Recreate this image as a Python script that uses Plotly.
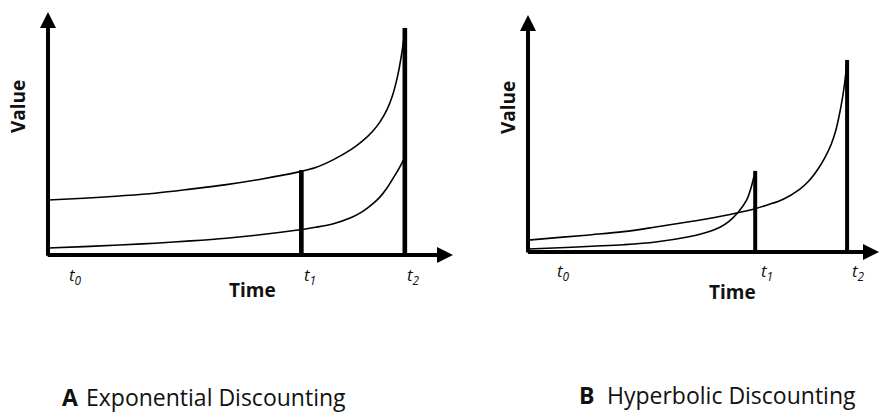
import plotly.graph_objects as go

W, H = 880, 413

# ---------------- data ----------------
# Panel A: exponential discounting
a_large_t = [0, 1, 2, 3, 4, 5, 6, 7, 7.5, 8, 8.5, 8.8, 9.1, 9.3, 9.5, 9.65, 9.8, 9.9, 9.96, 10]
a_large_v = [2.42, 2.5, 2.6, 2.72, 2.9, 3.1, 3.35, 3.65, 3.85, 4.2, 4.65, 5.0, 5.45, 5.85, 6.4, 7.0, 7.9, 8.75, 9.4, 10]
a_small_t = [0, 1, 2, 3, 4, 5, 6, 7, 7.5, 8, 8.5, 8.8, 9.1, 9.3, 9.5, 9.7, 9.85, 10]
a_small_v = [0.31, 0.37, 0.44, 0.52, 0.62, 0.74, 0.9, 1.1, 1.22, 1.38, 1.65, 1.9, 2.25, 2.55, 2.95, 3.45, 3.85, 4.3]
a_reward_t = [7.1, 10]
a_reward_v = [3.74, 10]

# Panel B: hyperbolic discounting
b_small_t = [0, 1, 2, 3, 4, 5, 5.5, 6, 6.3, 6.6, 6.85, 7.0, 7.12]
b_small_v = [0.16, 0.22, 0.3, 0.38, 0.52, 0.78, 0.98, 1.28, 1.6, 2.1, 2.7, 3.4, 4.22]
b_large_t = [0, 1, 2, 3, 4, 5, 6, 7, 7.5, 8, 8.5, 8.8, 9.1, 9.3, 9.5, 9.65, 9.8, 9.9, 9.96, 10]
b_large_v = [0.62, 0.76, 0.9, 1.06, 1.3, 1.56, 1.85, 2.2, 2.45, 2.75, 3.25, 3.7, 4.35, 4.9, 5.6, 6.35, 7.5, 8.5, 9.3, 10]
b_reward_t = [7.12, 10]
b_reward_v = [4.22, 10]

tick_labels = ["<i>t</i><sub><i>0</i></sub>", "<i>t</i><sub><i>1</i></sub>", "<i>t</i><sub><i>2</i></sub>"]
x_title = "Time"
y_title = "Value"
panel_letters = ["A", "B"]
panel_names = ["Exponential Discounting", "Hyperbolic Discounting"]

# ---------------- layout geometry (pixels) ----------------
A_px = dict(x0=48, x1=453, y0=255, y1=12, xr=11.35, yr=10.7)
B_px = dict(x0=528, x1=879, y0=252, y1=15, xr=11.0, yr=12.34)

def dom_x(p):
    return [p["x0"] / W, p["x1"] / W]

def dom_y(p):
    return [1 - p["y0"] / H, 1 - p["y1"] / H]

fig = go.Figure()

CURVE = dict(color="black", width=1.6, shape="spline", smoothing=1.0)

fig.add_trace(go.Scatter(x=a_large_t, y=a_large_v, mode="lines", line=CURVE, xaxis="x", yaxis="y", showlegend=False))
fig.add_trace(go.Scatter(x=a_small_t, y=a_small_v, mode="lines", line=CURVE, xaxis="x", yaxis="y", showlegend=False))
fig.add_trace(go.Bar(x=a_reward_t, y=a_reward_v, width=0.13, marker=dict(color="black", line=dict(width=0)),
                     xaxis="x", yaxis="y", showlegend=False))

fig.add_trace(go.Scatter(x=b_small_t, y=b_small_v, mode="lines", line=CURVE, xaxis="x2", yaxis="y2", showlegend=False))
fig.add_trace(go.Scatter(x=b_large_t, y=b_large_v, mode="lines", line=CURVE, xaxis="x2", yaxis="y2", showlegend=False))
fig.add_trace(go.Bar(x=b_reward_t, y=b_reward_v, width=0.125, marker=dict(color="black", line=dict(width=0)),
                     xaxis="x2", yaxis="y2", showlegend=False))

ax_common = dict(visible=False, fixedrange=True)
fig.update_layout(
    width=W, height=H,
    margin=dict(l=0, r=0, t=0, b=0),
    paper_bgcolor="white", plot_bgcolor="white",
    barmode="overlay",
    xaxis=dict(domain=dom_x(A_px), range=[0, A_px["xr"]], anchor="y", **ax_common),
    yaxis=dict(domain=dom_y(A_px), range=[0, A_px["yr"]], anchor="x", **ax_common),
    xaxis2=dict(domain=dom_x(B_px), range=[0, B_px["xr"]], anchor="y2", **ax_common),
    yaxis2=dict(domain=dom_y(B_px), range=[0, B_px["yr"]], anchor="x2", **ax_common),
)

ann = []
TICKFONT = dict(family="Open Sans", size=17, color="#111")
TITLEFONT = dict(family="Open Sans", size=19, color="#111")

def axes_arrows(xr, yr, xref, yref):
    common = dict(xref=xref, yref=yref, axref=xref, ayref=yref, showarrow=True, text="",
                  arrowhead=2, arrowsize=0.8, arrowwidth=4, arrowcolor="black", standoff=0, startstandoff=0)
    return [dict(x=xr, y=0, ax=-0.05, ay=0, **common),
            dict(x=0, y=yr, ax=0, ay=-0.1, **common)]

ann += axes_arrows(A_px["xr"], A_px["yr"], "x", "y")
ann += axes_arrows(B_px["xr"], B_px["yr"], "x2", "y2")

# tick labels
a_ticks = [0] + a_reward_t
a_shift = [27, 9, 9]
for t, lab, s in zip(a_ticks, tick_labels, a_shift):
    ann.append(dict(x=t, y=0, xref="x", yref="y", text=lab, showarrow=False, font=TICKFONT,
                    xanchor="center", yanchor="middle", xshift=s, yshift=-20))
b_ticks = [0] + b_reward_t
b_shift = [35, 12, 11]
for t, lab, s in zip(b_ticks, tick_labels, b_shift):
    ann.append(dict(x=t, y=0, xref="x2", yref="y2", text=lab, showarrow=False, font=TICKFONT,
                    xanchor="center", yanchor="middle", xshift=s, yshift=-19))

# axis titles
def ptext(xp, yp, text, font, **kw):
    d = dict(x=xp / W, y=1 - yp / H, xref="paper", yref="paper", text=text, showarrow=False,
             font=font, xanchor="center", yanchor="middle")
    d.update(kw)
    return d

ann.append(ptext(252, 290, "<b>%s</b>" % x_title, TITLEFONT))
ann.append(ptext(18, 107, "<b>%s</b>" % y_title, TITLEFONT, textangle=-90))
ann.append(ptext(732, 292, "<b>%s</b>" % x_title, TITLEFONT))
ann.append(ptext(508, 108, "<b>%s</b>" % y_title, TITLEFONT, textangle=-90))

# panel titles
PFONT = dict(family="Open Sans", size=23, color="#111")
ann.append(ptext(60, 397, "<b>%s</b>" % panel_letters[0], PFONT, xanchor="left"))
ann.append(ptext(84, 397, panel_names[0], PFONT, xanchor="left"))
ann.append(ptext(577, 395, "<b>%s</b>" % panel_letters[1], PFONT, xanchor="left"))
ann.append(ptext(605, 395, panel_names[1], PFONT, xanchor="left"))

fig.update_layout(annotations=ann)
fig.write_html("out.html", config={"displayModeBar": False},
               post_script="document.body.style.margin='0';document.body.style.overflow='hidden';")
